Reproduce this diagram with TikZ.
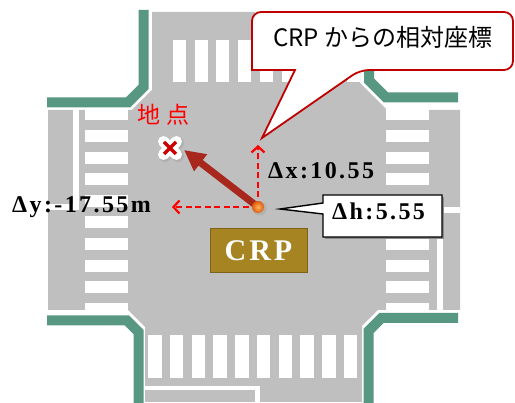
\documentclass[tikz,border=0pt]{standalone}
\usepackage{fontspec}
\setmainfont{Liberation Serif}
\newfontfamily\jpfont{Noto Sans CJK JP}
\newfontfamily\valfont[LetterSpace=10]{Liberation Serif}
\usepackage{tikz}
\usetikzlibrary{arrows.meta}
\usetikzlibrary{calc}

\definecolor{road}{RGB}{191,191,191}
\definecolor{curb}{RGB}{88,151,129}
\definecolor{crpgold}{RGB}{166,132,34}
\definecolor{noteborder}{RGB}{192,0,0}
\definecolor{vecred}{RGB}{168,40,30}
\definecolor{crossred}{RGB}{204,0,0}
\definecolor{balllight}{RGB}{255,178,90}
\definecolor{balldark}{RGB}{222,92,12}

\tikzset{
  curbline/.style={curb, line width=10pt, line join=miter},
  stripe/.style={fill=white},
  offset/.style={red, line width=2.2pt, dash pattern=on 6pt off 3.5pt,
    -{Straight Barb[length=6pt,width=13pt]}},
  vallabel/.style={font=\valfont\bfseries\fontsize{24}{24}\selectfont, inner sep=0pt},
}

\begin{document}
\begin{tikzpicture}[x=1pt,y=-1pt]
     \useasboundingbox (0,0) rectangle (515,403);

     % road surface
     \fill[road] (152,12) -- (360,12) -- (360,83) -- (387,110) -- (460,110) -- (460,310)
        -- (378,310) -- (362,326) -- (362,402) -- (145,402) -- (145,327) -- (128,310)
        -- (48,310) -- (48,110) -- (132,110) -- (152,90) -- cycle;

     % crosswalks
     \foreach \i in {0,...,8} \fill[stripe] ({173+21.7*\i},40) rectangle +(13,42);
     \foreach \i in {0,...,9} \fill[stripe] ({148+21.75*\i},335) rectangle +(13.5,43);
     \begin{scope}
       \clip (48,110) rectangle (460,310);
       \foreach \i in {-1,...,8} {
         \fill[stripe] (85,{130+21.6*\i}) rectangle +(43,12);
         \fill[stripe] (386,{130+21.6*\i}) rectangle +(43,12);
       }
     \end{scope}

     % stop lines
     \fill[white] (73,110) rectangle (79,210);
     \fill[white] (48,204) rectangle (79,210);
     \fill[white] (437,207) rectangle (443,310);
     \fill[white] (437,207) rectangle (460,213);
     \fill[white] (145,386) rectangle (260,390);
     \fill[white] (255,386) rectangle (260,402);
     \fill[white] (255,12) rectangle (260,40);
     \fill[white] (255,35) rectangle (360,40);

     % curbs
     \draw[curbline] (143.5,10) -- (143.5,87) -- (128,102.5) -- (47,102.5);
     \draw[curbline] (369,14) -- (369,80.5) -- (386,97.5) -- (458,97.5);
     \draw[curbline] (47,320.5) -- (127,320.5) -- (138.5,332) -- (138.5,403);
     \draw[curbline] (458,318) -- (381.5,318) -- (368.5,331) -- (368.5,403);

     % callout
     \draw[noteborder, line width=1.8pt, fill=white] (262,138) -- (295,70) -- (252,70) [rounded corners=9pt]
        -- (252,12) -- (513,12) -- (513,70) -- (360,70) [sharp corners] -- cycle;
     \node[font=\jpfont\fontsize{24}{24}\selectfont] (note) at (383,37) {CRP からの相対座標};

     \coordinate (crp) at (258,207);
     \coordinate (spot) at (170,148);
     \coordinate (xhead) at (258,145);
     \coordinate (yhead) at (172,207);
     \coordinate (vechead) at (184,150);
     \coordinate (hpoint) at (280,209);

     % height box
     \fill[black!45] (325,197) rectangle (444,239);
     \draw[line width=1.4pt, fill=white] (323,195) -- (442,195) -- (442,237) -- (323,237)
        -- (323,214) -- (hpoint) -- (323,203) -- cycle;
     \node[vallabel, anchor=base west] (dh) at (332,220) {Δh:5.55};

     % CRP plate
     \node[draw=crpgold!75!black, fill=crpgold, line width=1pt, minimum width=97pt,
        minimum height=44pt, inner sep=0pt, text=white,
        font=\valfont\bfseries\fontsize{30}{30}\selectfont] (plate) at (258.5,251) {CRP};

     % offsets and vector
     \draw[offset] (crp) -- (xhead);
     \draw[offset] (crp) -- (yhead);
     \draw[vecred, line width=7pt, -{Triangle[length=21pt,width=20pt]}] (crp) -- (vechead);

     % target mark
     \draw[black!35, line width=12pt, line cap=round, opacity=0.6]
        ($(spot)+(1.5,1.5)$) +(-6.5,-6.5) -- +(6.5,6.5) ($(spot)+(1.5,1.5)$) +(-6.5,6.5) -- +(6.5,-6.5);
     \draw[white, line width=11pt, line cap=round]
        (spot) +(-6.5,-6.5) -- +(6.5,6.5) (spot) +(-6.5,6.5) -- +(6.5,-6.5);
     \draw[crossred, line width=3.5pt]
        (spot) +(-6,-6) -- +(6,6) (spot) +(-6,6) -- +(6,-6);
     \node[text=red, font=\jpfont\fontsize{23}{23}\selectfont] (spotlabel) at (163.5,115) {地\hspace{7pt}点};

     % reference point
     \fill[black!40, opacity=0.35] ($(crp)+(1.5,1.5)$) circle (7pt);
     \shade[inner color=balllight, outer color=balldark] (crp) circle (6pt);

     \node[vallabel, anchor=base west] (dx) at (268,179) {Δx:10.55};
     \node[vallabel, anchor=base west] (dy) at (12,213) {Δy:-17.55m};
\end{tikzpicture}
\end{document}
